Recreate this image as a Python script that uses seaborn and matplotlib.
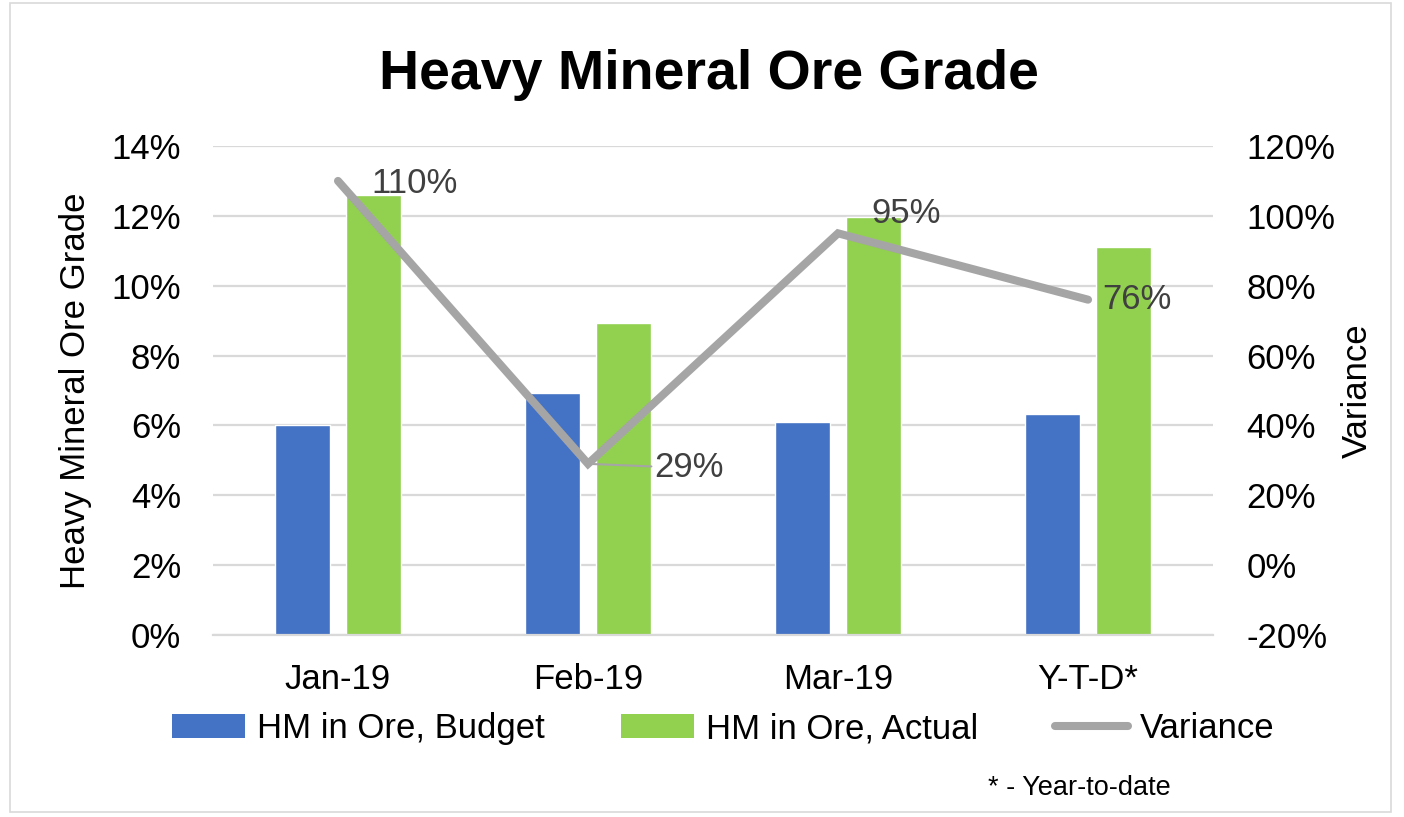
import matplotlib
matplotlib.use("Agg")
import matplotlib.pyplot as plt
import seaborn as sns
import pandas as pd
from matplotlib.patches import Patch, Rectangle
from matplotlib.lines import Line2D
from matplotlib.ticker import FuncFormatter

categories = ["Jan-19", "Feb-19", "Mar-19", "Y-T-D*"]
budget = [6.0, 6.93, 6.1, 6.33]
actual = [12.6, 8.92, 11.97, 11.12]
variance = [110, 29, 95, 76]
series_names = ["HM in Ore, Budget", "HM in Ore, Actual", "Variance"]

sns.set_style("white")
plt.rcParams["font.family"] = ["Liberation Sans", "DejaVu Sans"]

FS = 25
TXT = "#000000"
LBL = "#404040"
GRID = "#D9D9D9"
C_B = "#4472C4"
C_A = "#92D050"
C_L = "#A5A5A5"

df = pd.DataFrame({
    "cat": categories * 2,
    "val": budget + actual,
    "series": [series_names[0]] * 4 + [series_names[1]] * 4,
})

fig = plt.figure(figsize=(14.04, 8.17), dpi=100)
ax = fig.add_axes([0.1517, 0.2228, 0.7123, 0.5985])

sns.barplot(data=df, x="cat", y="val", hue="series", order=categories,
            hue_order=series_names[:2], palette=[C_B, C_A], width=0.568,
            gap=0.225, ax=ax, legend=False, saturation=1)
ax.set_xlim(-0.5, 3.5)
ax.set_ylim(0, 14)
ax.set_yticks(range(0, 15, 2))
ax.yaxis.set_major_formatter(FuncFormatter(lambda v, p: f"{v:.0f}%"))
ax.grid(axis="y", color=GRID, linewidth=1.6)
ax.set_axisbelow(True)
for s in ["top", "right", "left"]:
    ax.spines[s].set_visible(False)
ax.spines["bottom"].set_color(GRID)
ax.spines["bottom"].set_linewidth(1.6)
ax.tick_params(axis="both", length=0, labelsize=FS, colors=TXT)
ax.tick_params(axis="y", pad=23)
ax.tick_params(axis="x", pad=20)
ax.set_xlabel("")
ax.set_ylabel("Heavy Mineral Ore Grade", fontsize=FS, color=TXT, labelpad=14)

ax2 = ax.twinx()
sns.lineplot(x=list(range(4)), y=variance, ax=ax2, color=C_L, linewidth=5.8,
             solid_capstyle="round", solid_joinstyle="miter", sort=False)
ax2.set_ylim(-20, 120)
ax2.set_yticks(range(-20, 121, 20))
ax2.yaxis.set_major_formatter(FuncFormatter(lambda v, p: f"{v:.0f}%"))
for s in ["top", "right", "left", "bottom"]:
    ax2.spines[s].set_visible(False)
ax2.tick_params(axis="y", length=0, labelsize=FS, colors=TXT, pad=24)
ax2.set_ylabel("Variance", fontsize=FS, color=TXT, labelpad=4)
ax2.set_xlim(-0.5, 3.5)

offsets = [(24, -2), (48, -3), (24, 14), (10, 0)]
for i, v in enumerate(variance):
    if i == 1:
        ax2.annotate(f"{v}%", xy=(i, v), xytext=(offsets[i][0], offsets[i][1]),
                     textcoords="offset points", fontsize=FS, color=LBL,
                     ha="left", va="center",
                     arrowprops=dict(arrowstyle="-", color=C_L, lw=1.5,
                                     shrinkA=0, shrinkB=0))
    else:
        ax2.annotate(f"{v}%", xy=(i, v), xytext=offsets[i],
                     textcoords="offset points", fontsize=FS, color=LBL,
                     ha="left", va="center")

fig.text(0.505, 0.908, "Heavy Mineral Ore Grade", ha="center", va="center",
         fontsize=40, fontweight="bold", color=TXT)

handles = [Patch(facecolor=C_B, edgecolor="none"),
           Patch(facecolor=C_A, edgecolor="none"),
           Line2D([0], [0], color=C_L, linewidth=5.8, solid_capstyle="round")]
fig.legend(handles, series_names, loc="center", bbox_to_anchor=(0.515, 0.108),
           ncol=3, frameon=False, fontsize=FS, handlelength=2.1,
           handleheight=0.7, handletextpad=0.35, columnspacing=2.2,
           labelcolor=TXT)

fig.text(0.769, 0.036, "* - Year-to-date", ha="center", va="center",
         fontsize=19.5, color=TXT)

fig.patches.append(Rectangle((0.007, 0.006), 0.984, 0.99,
                             transform=fig.transFigure, fill=False,
                             edgecolor="#D9D9D9", linewidth=1.2))

fig.savefig("out.png", dpi=100)
